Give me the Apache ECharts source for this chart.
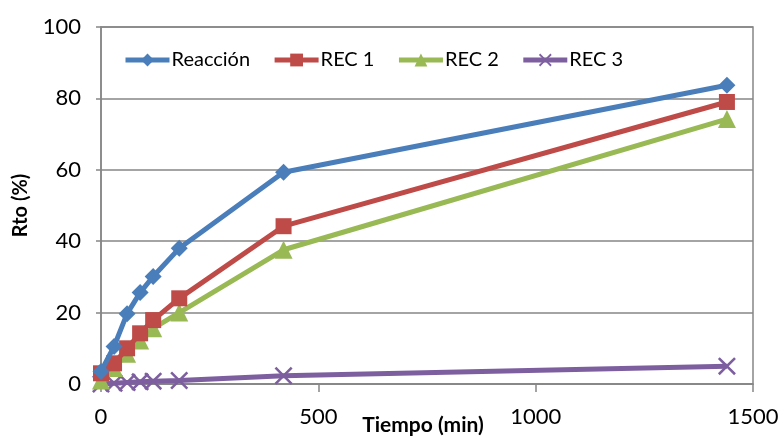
<!DOCTYPE html>
<html><head><meta charset="utf-8">
<script src="https://cdn.jsdelivr.net/npm/echarts@6/dist/echarts.min.js"></script>
<style>html,body{margin:0;padding:0;background:#fff}#c{width:780px;height:438px}</style>
</head><body><div id="c"></div>
<script>
const times = [0, 30, 60, 90, 120, 180, 420, 1440];
const seriesNames = ['Reacción', 'REC 1', 'REC 2', 'REC 3'];
const reaccion = [3.5, 10.5, 19.7, 25.6, 30.1, 38.0, 59.3, 83.7];
const rec1 = [3.0, 5.8, 10.0, 14.2, 17.9, 24.0, 44.2, 79.0];
const rec2 = [1.0, 4.5, 8.5, 12.2, 15.6, 20.0, 37.6, 74.2];
const rec3 = [0.0, 0.2, 0.4, 0.6, 0.8, 1.0, 2.3, 5.0];
const xTicks = [0, 500, 1000, 1500];
const yTicks = [0, 20, 40, 60, 80, 100];

const colors = ['#4a7ebb', '#be4b48', '#98b954', '#7d5fa0'];
const symbols = ['diamond', 'rect', 'triangle',
  'path://M0,1L1,0L5,4L9,0L10,1L6,5L10,9L9,10L5,6L1,10L0,9L4,5Z'];
const sizes = [17, 16, 18, 18];
const allData = [reaccion, rec1, rec2, rec3];
const font = 'Lato, "Open Sans", sans-serif';

const chart = echarts.init(document.getElementById('c'));
chart.setOption({
  animation: false,
  grid: {left: 101, right: 27, top: 27, bottom: 54, show: true, borderColor: '#868686', borderWidth: 1.5,
         containLabel: false, outerBoundsMode: 'none'},
  legend: {
    top: 45, left: 118, itemGap: 22, itemWidth: 44, itemHeight: 16,
    lineStyle: {width: 5},
    textStyle: {fontFamily: font, fontSize: 20, color: '#000', padding: [0, 0, 0, -3]},
    data: seriesNames
  },
  xAxis: {
    type: 'value', min: xTicks[0], max: xTicks[xTicks.length - 1], interval: 500,
    name: 'Tiempo (min)', nameLocation: 'middle', nameGap: 31, nameMoveOverlap: false,
    nameTextStyle: {fontFamily: font, fontSize: 21, fontWeight: 'bold', color: '#000', padding: [0, 8, 0, 0]},
    axisLine: {lineStyle: {color: '#868686', width: 1.5}},
    axisTick: {show: true, inside: false, length: 8, lineStyle: {color: '#868686', width: 1.5}},
    axisLabel: {fontFamily: font, fontSize: 22, color: '#000', margin: 22, formatter: v => String(v)},
    splitLine: {show: false}
  },
  yAxis: {
    type: 'value', min: yTicks[0], max: yTicks[yTicks.length - 1], interval: 20,
    name: 'Rto (%)', nameLocation: 'middle', nameGap: 70, nameRotate: 90, nameMoveOverlap: false,
    nameTextStyle: {fontFamily: font, fontSize: 20, fontWeight: 'bold', color: '#000'},
    axisLine: {show: true, lineStyle: {color: '#868686', width: 1.5}},
    axisTick: {show: true, length: 5, lineStyle: {color: '#868686', width: 1.5}},
    axisLabel: {fontFamily: font, fontSize: 22, color: '#000', margin: 20},
    splitLine: {show: true, lineStyle: {color: '#868686', width: 1.5}}
  },
  series: seriesNames.map((n, i) => ({
    name: n, type: 'line',
    data: times.map((t, k) => [t, allData[i][k]]),
    symbol: symbols[i], symbolSize: sizes[i],
    showAllSymbol: true,
    lineStyle: {color: colors[i], width: 5},
    itemStyle: {color: colors[i]},
    z: 10 - i
  }))
});
</script></body></html>
